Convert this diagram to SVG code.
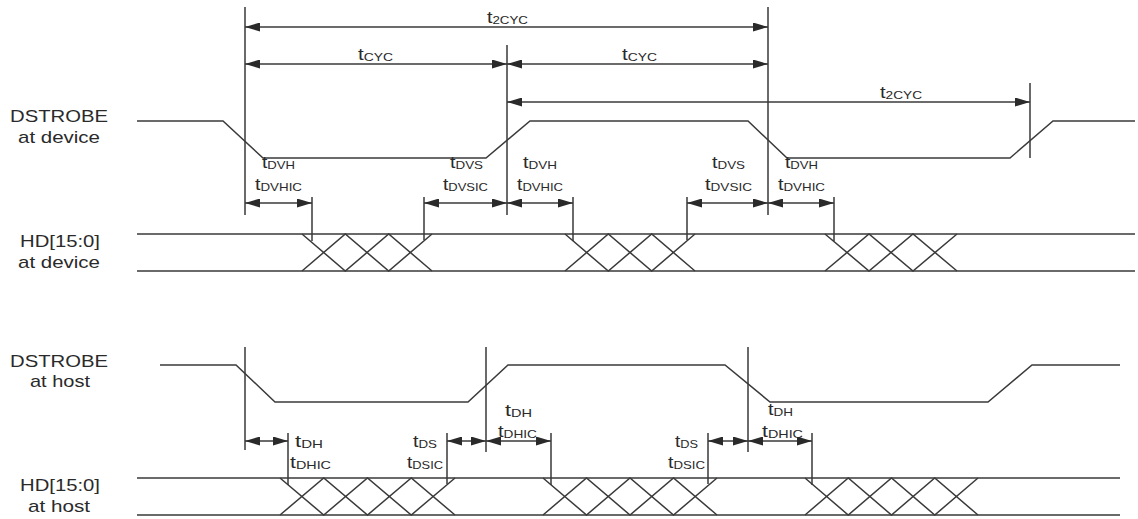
<svg xmlns="http://www.w3.org/2000/svg" width="1138" height="519" viewBox="0 0 1138 519">
<style>
.ln{fill:none;stroke:#3a3a3a;stroke-width:1.5}
.ar{fill:none;stroke:#3a3a3a;stroke-width:1.5;marker-start:url(#ah);marker-end:url(#ah)}
.sig{font-family:"Liberation Sans",Arial,sans-serif;font-size:17px;fill:#2a2a2a;text-anchor:middle}
.tl{font-family:"Liberation Sans",Arial,sans-serif;font-size:17px;fill:#2a2a2a}
.sub{font-size:11.5px}
</style>
<defs>
<marker id="ah" viewBox="0 0 15 9" refX="15" refY="4.5" markerWidth="15" markerHeight="9" markerUnits="userSpaceOnUse" orient="auto-start-reverse">
<path d="M0,0 L15,4.5 L0,9 z" fill="#2a2a2a"/>
</marker>
</defs>
<rect width="1138" height="519" fill="#ffffff"/>

<g id="signal-labels">
<text class="sig" x="59" y="122" textLength="98" lengthAdjust="spacingAndGlyphs">DSTROBE</text>
<text class="sig" x="59" y="143" textLength="82" lengthAdjust="spacingAndGlyphs">at device</text>
<text class="sig" x="60" y="247" textLength="80" lengthAdjust="spacingAndGlyphs">HD[15:0]</text>
<text class="sig" x="59" y="268" textLength="82" lengthAdjust="spacingAndGlyphs">at device</text>
<text class="sig" x="59" y="367" textLength="98" lengthAdjust="spacingAndGlyphs">DSTROBE</text>
<text class="sig" x="60" y="387" textLength="60" lengthAdjust="spacingAndGlyphs">at host</text>
<text class="sig" x="60" y="491" textLength="80" lengthAdjust="spacingAndGlyphs">HD[15:0]</text>
<text class="sig" x="59" y="512" textLength="62" lengthAdjust="spacingAndGlyphs">at host</text>
</g>

<g id="dstrobe-device">
<path class="ln" d="M137,121 L223,121 L263,158 L486,158 L530,121 L748,121 L787,158 L1010,158 L1053,121 L1135,121"/>
</g>

<g id="hd-device">
<path class="ln" d="M137,234 L1135,234 M137,271 L1135,271"/>
<path class="ln" d="M302,234 L345.3,271 L388.7,234 L432,271 M302,271 L345.3,234 L388.7,271 L432,234"/>
<path class="ln" d="M565,234 L608.3,271 L651.7,234 L695,271 M565,271 L608.3,234 L651.7,271 L695,234"/>
<path class="ln" d="M825,234 L869,271 L913,234 L957,271 M825,271 L869,234 L913,271 L957,234"/>
</g>

<g id="dstrobe-host">
<path class="ln" d="M160,365 L236,365 L275,402 L468,402 L508,365 L725,365 L770,402 L988,402 L1032,365 L1120,365"/>
</g>

<g id="hd-host">
<path class="ln" d="M137,478 L1120,478 M137,515 L1120,515"/>
<path class="ln" d="M280,478 L323.75,515 L367.5,478 L411.25,515 L455,478 M280,515 L323.75,478 L367.5,515 L411.25,478 L455,515"/>
<path class="ln" d="M543,478 L586.5,515 L630,478 L673.5,515 L717,478 M543,515 L586.5,478 L630,515 L673.5,478 L717,515"/>
<path class="ln" d="M805,478 L848.25,515 L891.5,478 L934.75,515 L978,478 M805,515 L848.25,478 L891.5,515 L934.75,478 L978,515"/>
</g>

<g id="connectors">
<path class="ln" d="M245,7 L245,215 M507,45 L507,215 M768,7 L768,215 M1030,83 L1030,158"/>
<path class="ln" d="M312,197 L312,241 M424,197 L424,240 M573,197 L573,241 M687,197 L687,240 M834,197 L834,241"/>
<path class="ln" d="M245,347 L245,450 M486,347 L486,452 M748,347 L748,452"/>
<path class="ln" d="M288,433 L288,485 M447,433 L447,484 M551,433 L551,485 M708,433 L708,484 M812,433 L812,485"/>
<path class="ar" d="M245,27 L768,27"/>
<path class="ar" d="M245,64 L507,64"/>
<path class="ar" d="M507,64 L768,64"/>
<path class="ar" d="M507,102 L1030,102"/>
<path class="ar" d="M245,203 L312,203"/>
<path class="ar" d="M424,203 L507,203"/>
<path class="ar" d="M507,203 L573,203"/>
<path class="ar" d="M687,203 L768,203"/>
<path class="ar" d="M768,203 L834,203"/>
<path class="ar" d="M245,441 L288,441"/>
<path class="ar" d="M447,441 L486,441"/>
<path class="ar" d="M486,441 L551,441"/>
<path class="ar" d="M708,441 L748,441"/>
<path class="ar" d="M748,441 L812,441"/>
</g>

<g id="timing-labels">
<text class="tl" x="487" y="23" textLength="41" lengthAdjust="spacingAndGlyphs">t<tspan class="sub" dy="1">2CYC</tspan></text>
<text class="tl" x="358" y="60" textLength="35" lengthAdjust="spacingAndGlyphs">t<tspan class="sub" dy="1">CYC</tspan></text>
<text class="tl" x="622" y="60" textLength="35" lengthAdjust="spacingAndGlyphs">t<tspan class="sub" dy="1">CYC</tspan></text>
<text class="tl" x="880" y="98" textLength="42" lengthAdjust="spacingAndGlyphs">t<tspan class="sub" dy="1">2CYC</tspan></text>

<text class="tl" x="262" y="168" textLength="33" lengthAdjust="spacingAndGlyphs">t<tspan class="sub" dy="1">DVH</tspan></text>
<text class="tl" x="255" y="190" textLength="47" lengthAdjust="spacingAndGlyphs">t<tspan class="sub" dy="1">DVHIC</tspan></text>
<text class="tl" x="450" y="168" textLength="33" lengthAdjust="spacingAndGlyphs">t<tspan class="sub" dy="1">DVS</tspan></text>
<text class="tl" x="443" y="190" textLength="45" lengthAdjust="spacingAndGlyphs">t<tspan class="sub" dy="1">DVSIC</tspan></text>
<text class="tl" x="523" y="168" textLength="34" lengthAdjust="spacingAndGlyphs">t<tspan class="sub" dy="1">DVH</tspan></text>
<text class="tl" x="517" y="190" textLength="46" lengthAdjust="spacingAndGlyphs">t<tspan class="sub" dy="1">DVHIC</tspan></text>
<text class="tl" x="712" y="168" textLength="33" lengthAdjust="spacingAndGlyphs">t<tspan class="sub" dy="1">DVS</tspan></text>
<text class="tl" x="705" y="190" textLength="47" lengthAdjust="spacingAndGlyphs">t<tspan class="sub" dy="1">DVSIC</tspan></text>
<text class="tl" x="785" y="168" textLength="33" lengthAdjust="spacingAndGlyphs">t<tspan class="sub" dy="1">DVH</tspan></text>
<text class="tl" x="778" y="190" textLength="47" lengthAdjust="spacingAndGlyphs">t<tspan class="sub" dy="1">DVHIC</tspan></text>

<text class="tl" x="295" y="447" textLength="28" lengthAdjust="spacingAndGlyphs">t<tspan class="sub" dy="1">DH</tspan></text>
<text class="tl" x="290" y="468" textLength="41" lengthAdjust="spacingAndGlyphs">t<tspan class="sub" dy="1">DHIC</tspan></text>
<text class="tl" x="413" y="447" textLength="24" lengthAdjust="spacingAndGlyphs">t<tspan class="sub" dy="1">DS</tspan></text>
<text class="tl" x="407" y="468" textLength="36" lengthAdjust="spacingAndGlyphs">t<tspan class="sub" dy="1">DSIC</tspan></text>
<text class="tl" x="505" y="416" textLength="27" lengthAdjust="spacingAndGlyphs">t<tspan class="sub" dy="1">DH</tspan></text>
<text class="tl" x="498" y="437" textLength="39" lengthAdjust="spacingAndGlyphs">t<tspan class="sub" dy="1">DHIC</tspan></text>
<text class="tl" x="675" y="447" textLength="23" lengthAdjust="spacingAndGlyphs">t<tspan class="sub" dy="1">DS</tspan></text>
<text class="tl" x="668" y="468" textLength="37" lengthAdjust="spacingAndGlyphs">t<tspan class="sub" dy="1">DSIC</tspan></text>
<text class="tl" x="768" y="415" textLength="25" lengthAdjust="spacingAndGlyphs">t<tspan class="sub" dy="1">DH</tspan></text>
<text class="tl" x="762" y="437" textLength="41" lengthAdjust="spacingAndGlyphs">t<tspan class="sub" dy="1">DHIC</tspan></text>
</g>
</svg>
